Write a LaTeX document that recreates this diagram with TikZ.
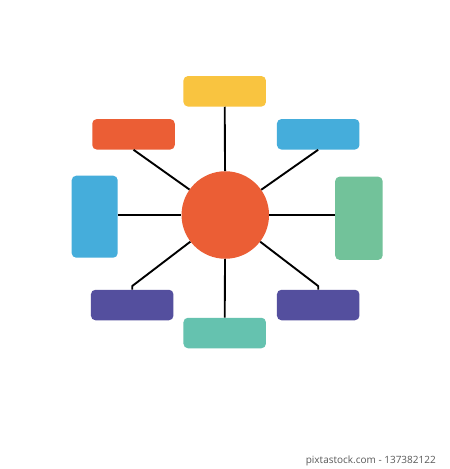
\documentclass[tikz,border=0pt]{standalone}
\usepackage{fontspec}
\newfontfamily\wmfont{Open Sans}
\definecolor{cyel}{HTML}{F9C440}
\definecolor{corg}{HTML}{EB5E35}
\definecolor{cblu}{HTML}{45ADDB}
\definecolor{cgrn}{HTML}{72C29A}
\definecolor{cpur}{HTML}{544F9E}
\definecolor{ctea}{HTML}{65C2AF}
\begin{document}
\begin{tikzpicture}[x=1pt,y=-1pt,
  box/.style={rectangle,rounded corners=4.5pt,inner sep=0pt,draw=none},
  wide/.style={box,minimum width=82.5pt,minimum height=30.5pt},
  tall/.style={box,minimum width=46pt,minimum height=82pt},
  link/.style={line width=1.9pt,black,line join=round}]
\useasboundingbox (0,0) rectangle (450,469);
\fill[white] (0,0) rectangle (450,469);
\node[circle,fill=corg,minimum size=87.5pt,inner sep=0pt] (c) at (225.3,215) {};
\node[wide,fill=cyel] (t) at (224.7,91.3) {};
\node[wide,fill=corg] (tl) at (133.5,134.3) {};
\node[wide,fill=cblu] (tr) at (318.2,134.3) {};
\node[tall,fill=cblu] (l) at (94.7,216.7) {};
\node[tall,fill=cgrn,minimum width=47.5pt,minimum height=83.3pt] (r) at (358.9,218.3) {};
\node[wide,fill=cpur] (bl) at (132.2,305) {};
\node[wide,fill=cpur] (br) at (318.2,305) {};
\node[wide,fill=ctea] (b) at (224.7,333) {};
\coordinate (blk) at ([yshift=3.5pt]bl.north);
\coordinate (brk) at ([yshift=3.5pt]br.north);
\draw[link] (t.south) -- (c);
\draw[link] (b.north) -- (c);
\draw[link] (l.east |- c) -- (c);
\draw[link] (r.west |- c) -- (c);
\draw[link] (tl.south) -- (c);
\draw[link] (tr.south) -- (c);
\draw[link] (bl.north) -- (blk) -- (c);
\draw[link] (br.north) -- (brk) -- (c);
\node[font=\wmfont\fontsize{10}{12}\selectfont,text=black!65,anchor=east,inner sep=0pt] (wm) at (436,460.5) {pixtastock.com - 137382122};
\end{tikzpicture}
\end{document}
